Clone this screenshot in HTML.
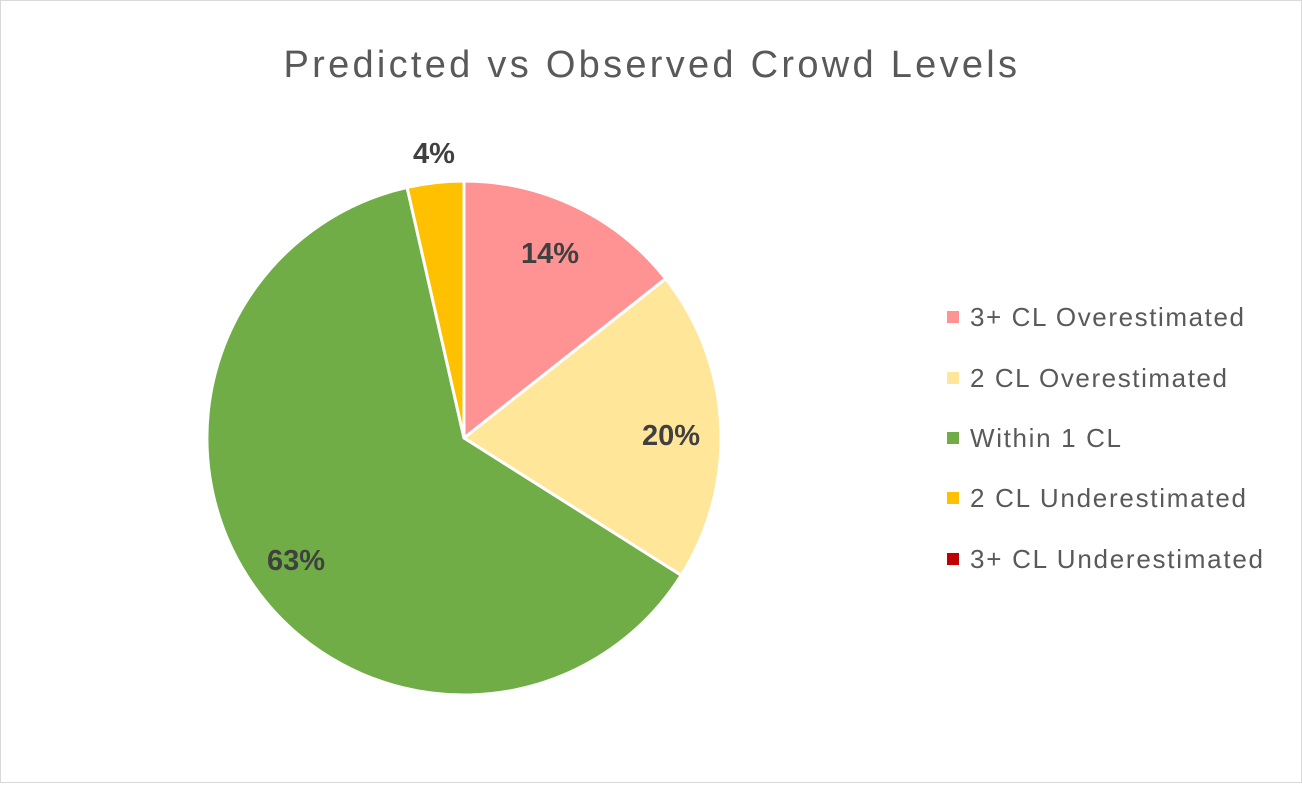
<!DOCTYPE html>
<html><head><style>
body{margin:0;background:#fff;}
.f{font-family:"Liberation Sans",sans-serif;}
</style></head><body>
<svg width="1302" height="783" xmlns="http://www.w3.org/2000/svg" class="f">
<rect x="0.5" y="0.5" width="1301" height="782" fill="#fff" stroke="#d9d9d9"/>
<text x="651" y="77" text-anchor="middle" font-size="38" letter-spacing="1.5" textLength="735" fill="#595959">Predicted vs Observed Crowd Levels</text>
<g stroke="#fff" stroke-width="3" stroke-linejoin="round">
<path d="M464,438 L464,181 A257,257 0 0 1 665.7,278.7 Z" fill="#ff9393"/>
<path d="M464,438 L665.7,278.7 A257,257 0 0 1 681.2,575.3 Z" fill="#ffe699"/>
<path d="M464,438 L681.2,575.3 A257,257 0 1 1 407.1,187.4 Z" fill="#70ad47"/>
<path d="M464,438 L407.1,187.4 A257,257 0 0 1 464,181 Z" fill="#ffc000"/>
</g>
<g font-size="29" font-weight="bold" fill="#404040" text-anchor="middle">
<text x="550" y="263">14%</text>
<text x="671" y="445">20%</text>
<text x="296" y="570">63%</text>
<text x="434" y="163">4%</text>
</g>
<g font-size="26" fill="#595959">
<rect x="947" y="311" width="12" height="12" fill="#ff9393"/><text x="970" y="326" textLength="274">3+ CL Overestimated</text>
<rect x="947" y="372" width="12" height="12" fill="#ffe699"/><text x="970" y="387" textLength="257">2 CL Overestimated</text>
<rect x="947" y="432" width="12" height="12" fill="#70ad47"/><text x="970" y="447" textLength="151">Within 1 CL</text>
<rect x="947" y="492" width="12" height="12" fill="#ffc000"/><text x="970" y="507" textLength="276">2 CL Underestimated</text>
<rect x="947" y="553" width="12" height="12" fill="#c00000"/><text x="970" y="568" textLength="293">3+ CL Underestimated</text>
</g>
</svg>
</body></html>
